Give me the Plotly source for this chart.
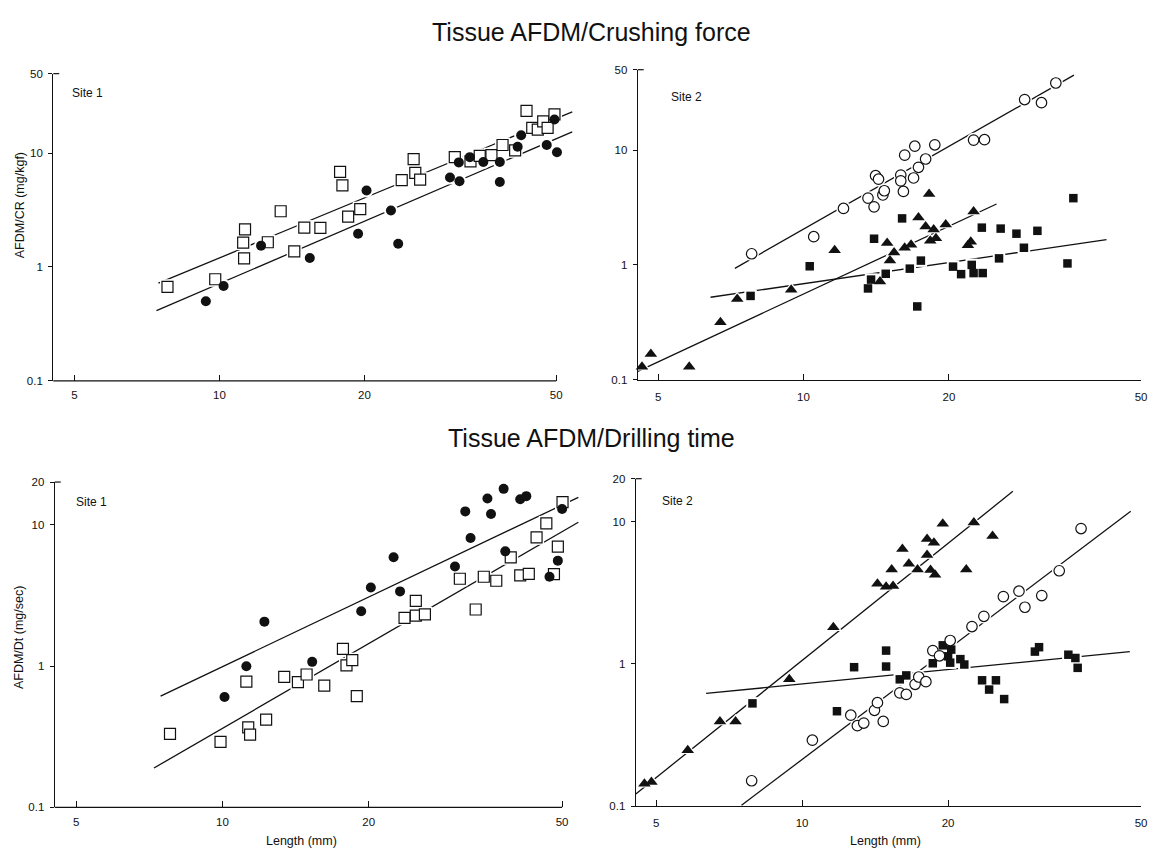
import math
import plotly.graph_objects as go

W, H = 1156, 856
OFF = 8  # the page body keeps its default 8px margin, so positions are shifted back by it

# ---------------- Tissue AFDM / Crushing force, Site 1 ----------------
cr1_sq_len = [7.8, 9.8, 11.3, 11.2, 11.25, 12.6, 13.4, 14.3, 15.0, 16.2, 17.8, 18.0, 18.5, 19.6, 23.9,
              25.3, 25.5, 26.1, 30.8, 33.2, 34.7, 36.7, 38.7, 41.1, 43.4, 44.6, 45.8, 47.0, 48.0, 49.6]
cr1_sq_val = [0.67, 0.78, 2.14, 1.64, 1.19, 1.65, 3.09, 1.37, 2.22, 2.21, 6.85, 5.22, 2.77, 3.22, 5.81,
              8.88, 6.72, 5.85, 9.23, 8.47, 9.48, 9.6, 11.8, 10.6, 23.5, 16.7, 16.1, 19.0, 16.7, 21.9]
cr1_ci_len = [9.37, 10.2, 12.2, 15.4, 19.4, 20.2, 22.7, 23.5, 30.1, 31.4, 31.5, 33.1, 35.3, 38.2, 38.2,
              41.6, 42.3, 47.8, 49.6, 50.2]
cr1_ci_val = [0.50, 0.68, 1.54, 1.20, 1.96, 4.70, 3.14, 1.60, 6.12, 8.30, 5.66, 9.23, 8.36, 8.36, 5.58,
              11.4, 14.4, 11.8, 19.8, 10.2]
cr1_fit_sq = ([7.47, 54.0], [0.72, 23.1])
cr1_fit_ci = ([7.40, 54.0], [0.413, 15.4])

# ---------------- Tissue AFDM / Crushing force, Site 2 ----------------
cr2_oc_len = [7.81, 10.5, 12.1, 13.6, 14.0, 14.1, 14.3, 14.6, 14.7, 15.9, 15.9, 16.1, 16.2, 16.9, 17.0,
              17.3, 17.9, 18.7, 22.5, 23.7, 28.7, 31.1, 33.3]
cr2_oc_val = [1.25, 1.76, 3.10, 3.81, 3.20, 5.98, 5.57, 4.06, 4.42, 6.05, 5.39, 4.36, 9.02, 5.71, 10.8,
              7.07, 8.35, 11.1, 12.2, 12.3, 27.5, 25.8, 38.3]
cr2_tr_len = [4.63, 4.83, 5.80, 6.73, 7.29, 9.43, 11.6, 14.4, 14.9, 15.1, 15.4, 16.2, 16.7, 17.3, 17.9,
              18.2, 18.3, 18.6, 18.8, 19.7, 21.9, 22.2, 22.5]
cr2_tr_val = [0.13, 0.168, 0.13, 0.317, 0.505, 0.607, 1.34, 0.716, 1.55, 1.09, 1.28, 1.41, 1.50, 2.59, 2.16,
              4.14, 1.62, 2.03, 1.71, 2.25, 1.48, 1.59, 2.91]
cr2_fs_len = [7.77, 10.3, 13.6, 13.8, 14.0, 14.8, 16.0, 16.6, 17.2, 17.5, 20.4, 21.2, 22.3, 22.5, 23.5,
              23.4, 25.4, 25.6, 27.6, 28.6, 30.5, 35.2, 36.2]
cr2_fs_val = [0.537, 0.973, 0.624, 0.745, 1.69, 0.837, 2.54, 0.928, 0.435, 1.09, 0.966, 0.831, 1.0, 0.849,
              0.849, 2.11, 1.14, 2.07, 1.87, 1.41, 1.98, 1.03, 3.81]
cr2_fit_oc = ([7.21, 36.3], [0.934, 44.8])
cr2_fit_tr = ([4.51, 25.1], [0.117, 3.39])
cr2_fit_fs = ([6.42, 42.4], [0.523, 1.66])

# ---------------- Tissue AFDM / Drilling time, Site 1 ----------------
dt1_ci_len = [10.1, 11.2, 12.2, 15.3, 19.3, 20.2, 22.5, 23.2, 30.1, 31.6, 32.4, 35.1, 35.7, 37.9, 38.2,
              41.0, 42.2, 47.1, 49.0, 50.0]
dt1_ci_val = [0.604, 0.995, 2.06, 1.07, 2.44, 3.59, 5.87, 3.37, 5.06, 12.4, 8.04, 15.3, 11.9, 17.9, 6.47,
              15.1, 15.9, 4.28, 5.56, 12.9]
dt1_sq_len = [7.8, 9.91, 11.2, 11.3, 11.4, 12.3, 13.4, 14.3, 14.9, 16.2, 17.7, 18.0, 18.5, 18.9, 23.7,
              25.0, 25.0, 26.1, 30.8, 33.2, 34.5, 36.6, 39.2, 41.0, 42.7, 44.3, 46.4, 48.1, 49.0, 50.1]
dt1_sq_val = [0.331, 0.291, 0.775, 0.368, 0.327, 0.418, 0.839, 0.77, 0.871, 0.727, 1.32, 1.01, 1.10, 0.613,
              2.19, 2.89, 2.27, 2.32, 4.14, 2.51, 4.28, 4.01, 5.87, 4.37, 4.49, 8.13, 10.2, 4.47, 6.98, 14.4]
dt1_fit_ci = ([7.46, 54.0], [0.613, 15.6])
dt1_fit_sq = ([7.23, 54.0], [0.19, 10.4])

# ---------------- Tissue AFDM / Drilling time, Site 2 ----------------
dt2_tr_len = [4.73, 4.89, 5.81, 6.77, 7.29, 9.41, 11.6, 14.3, 14.9, 15.4, 15.3, 16.1, 16.6, 17.3, 18.1,
              18.1, 18.4, 18.7, 18.8, 19.5, 21.8, 22.6, 24.7]
dt2_tr_val = [0.144, 0.148, 0.247, 0.394, 0.394, 0.779, 1.81, 3.65, 3.48, 3.53, 4.61, 6.41, 5.05, 4.61, 5.82,
              7.54, 4.56, 7.11, 4.23, 9.63, 4.61, 9.84, 7.92]
dt2_oc_len = [7.87, 10.5, 12.6, 13.0, 13.4, 14.1, 14.3, 14.7, 15.9, 16.4, 17.1, 17.4, 18.0, 18.6, 19.2,
              20.2, 22.4, 23.7, 26.0, 28.0, 28.8, 31.2, 33.9, 37.6]
dt2_oc_val = [0.151, 0.291, 0.436, 0.368, 0.384, 0.472, 0.534, 0.394, 0.626, 0.61, 0.719, 0.809, 0.75, 1.24,
              1.14, 1.46, 1.83, 2.16, 2.97, 3.24, 2.50, 3.02, 4.51, 8.93]
dt2_fs_len = [7.90, 11.8, 12.8, 14.9, 14.9, 15.9, 16.4, 18.6, 19.5, 20.0, 20.2, 20.3, 21.2, 21.6, 23.5,
              24.3, 25.1, 26.1, 30.2, 30.8, 35.4, 36.6, 37.0]
dt2_fs_val = [0.528, 0.465, 0.948, 1.24, 0.958, 0.779, 0.83, 1.01, 1.35, 1.13, 1.02, 1.26, 1.08, 0.99, 0.767,
              0.66, 0.767, 0.566, 1.22, 1.31, 1.16, 1.10, 0.938]
dt2_fit_tr = ([4.54, 27.2], [0.122, 16.3])
dt2_fit_oc = ([7.5, 47.6], [0.1016, 11.8])
dt2_fit_fs = ([6.34, 47.4], [0.62, 1.22])

x_ticks = [5, 10, 20, 50]
y_ticks_top = [0.1, 1, 10, 50]
y_ticks_bottom = [0.1, 1, 10, 20]

FONT = "Liberation Sans, Arial, sans-serif"
INK = "#111111"


def px(x):
    return (x - OFF) / W


def py(y):
    return 1 - (y - OFF) / H


# panel geometry in screen pixels: y-axis x, x of tick 5, x of tick 50, last x value, top y, bottom y, top value
panels = {
    1: dict(x0=53.5, x5=74.8, x50=559, xmax=55, yt=68.5, yb=380, ytop=50),
    2: dict(x0=641, x5=661.5, x50=1147, xmax=50, yt=64.5, yb=379, ytop=50),
    3: dict(x0=55, x5=76.5, x50=565, xmax=55, yt=482.7, yb=812.7, ytop=20),
    4: dict(x0=639, x5=659.5, x50=1147, xmax=50, yt=479.3, yb=811.5, ytop=20),
}

STYLE = {
    'sq_open': dict(symbol='square', size=11, color='white', line=dict(color=INK, width=1.2)),
    'ci_open': dict(symbol='circle', size=10.5, color='white', line=dict(color=INK, width=1.2)),
    'ci_fill': dict(symbol='circle', size=10, color=INK, line=dict(width=0)),
    'tri': dict(symbol='triangle-up', size=11, color=INK, line=dict(width=0)),
    'sq_fill': dict(symbol='square', size=8.5, color=INK, line=dict(width=0)),
}

fig = go.Figure()
shapes = []
layout = dict(width=W, height=H, margin=dict(l=0, r=0, t=0, b=0), showlegend=False,
              paper_bgcolor='white', plot_bgcolor='white', font=dict(family=FONT, color=INK))

for n, p in panels.items():
    dec = p['x50'] - p['x5']
    lo = math.log10(5) - (p['x5'] - p['x0']) / dec
    hi = math.log10(p['xmax'])
    right = p['x0'] + (hi - lo) * dec
    sfx = '' if n == 1 else str(n)
    extended = p['xmax'] > 50
    layout['xaxis' + sfx] = dict(
        type='log', range=[lo, hi], domain=[px(p['x0']), px(right)], anchor='y' + sfx,
        showgrid=False, zeroline=False, showline=not extended, linecolor=INK, linewidth=1.2,
        tickvals=x_ticks, ticktext=[str(v) for v in x_ticks], ticks='inside', ticklen=6,
        tickcolor=INK, tickwidth=1.2, tickfont=dict(size=11.5, color=INK), ticklabelstandoff=6)
    yt = y_ticks_top if p['ytop'] == 50 else y_ticks_bottom
    layout['yaxis' + sfx] = dict(
        type='log', range=[-1, math.log10(p['ytop'])], domain=[py(p['yb']), py(p['yt'])],
        anchor='x' + sfx, showgrid=False, zeroline=False, showline=True, linecolor=INK, linewidth=1.2,
        tickvals=yt, ticktext=['0.1', '1', '10', str(p['ytop'])], ticks='outside', ticklen=4,
        tickcolor=INK, tickwidth=1.2, tickfont=dict(size=11.5, color=INK), ticklabelstandoff=3)
    if extended:
        shapes.append(dict(type='line', xref='paper', yref='paper', x0=px(p['x0']), x1=px(p['x50']),
                           y0=py(p['yb']), y1=py(p['yb']), line=dict(color=INK, width=1.2)))
    # small cap at the top of the y axis
    shapes.append(dict(type='line', xref='paper', yref='paper', x0=px(p['x0']), x1=px(p['x0'] + 6),
                       y0=py(p['yt']), y1=py(p['yt']), line=dict(color=INK, width=1.2)))

fits = {
    1: [cr1_fit_sq, cr1_fit_ci],
    2: [cr2_fit_oc, cr2_fit_tr, cr2_fit_fs],
    3: [dt1_fit_ci, dt1_fit_sq],
    4: [dt2_fit_tr, dt2_fit_oc, dt2_fit_fs],
}
points = {
    1: [(cr1_sq_len, cr1_sq_val, 'sq_open'), (cr1_ci_len, cr1_ci_val, 'ci_fill')],
    2: [(cr2_fs_len, cr2_fs_val, 'sq_fill'), (cr2_tr_len, cr2_tr_val, 'tri'), (cr2_oc_len, cr2_oc_val, 'ci_open')],
    3: [(dt1_sq_len, dt1_sq_val, 'sq_open'), (dt1_ci_len, dt1_ci_val, 'ci_fill')],
    4: [(dt2_fs_len, dt2_fs_val, 'sq_fill'), (dt2_tr_len, dt2_tr_val, 'tri'), (dt2_oc_len, dt2_oc_val, 'ci_open')],
}

for n in panels:
    sfx = '' if n == 1 else str(n)
    ax = dict(xaxis='x' + sfx, yaxis='y' + sfx)
    for fx_, fy_ in fits[n]:
        fig.add_trace(go.Scatter(x=fx_, y=fy_, mode='lines', line=dict(color=INK, width=1.3),
                                 hoverinfo='skip', **ax))
    # white halos so the fitted lines break around the symbols
    for xs, ys, kind in points[n]:
        st = STYLE[kind]
        fig.add_trace(go.Scatter(x=xs, y=ys, mode='markers', hoverinfo='skip', cliponaxis=False,
                                 marker=dict(symbol=st['symbol'], size=st['size'] + 4, color='white',
                                             line=dict(width=0)), **ax))
    for xs, ys, kind in points[n]:
        st = STYLE[kind]
        fig.add_trace(go.Scatter(x=xs, y=ys, mode='markers', cliponaxis=False,
                                 marker=dict(symbol=st['symbol'], size=st['size'], color=st['color'],
                                             line=st['line']), **ax))


def note(text, x, y, size=12, angle=0):
    return dict(text=text, x=px(x), y=py(y), xref='paper', yref='paper', showarrow=False,
                xanchor='center', yanchor='middle', textangle=angle, font=dict(size=size, color=INK))


layout['shapes'] = shapes
layout['annotations'] = [
    note("Tissue AFDM/Crushing force", 595, 26, size=25),
    note("Tissue AFDM/Drilling time", 595, 438, size=25),
    note("Site 1", 88, 88, size=12),
    note("Site 2", 690, 92, size=12),
    note("Site 1", 92, 503, size=12),
    note("Site 2", 681, 502, size=12),
    note("AFDM/CR (mg/kgf)", 20, 202, size=12.5, angle=-90),
    note("AFDM/Dt (mg/sec)", 19, 640, size=12.5, angle=-90),
    note("Length (mm)", 303, 847, size=12.5),
    note("Length (mm)", 890, 847, size=12.5),
]
fig.update_layout(**layout)
fig.write_html("out.html")
